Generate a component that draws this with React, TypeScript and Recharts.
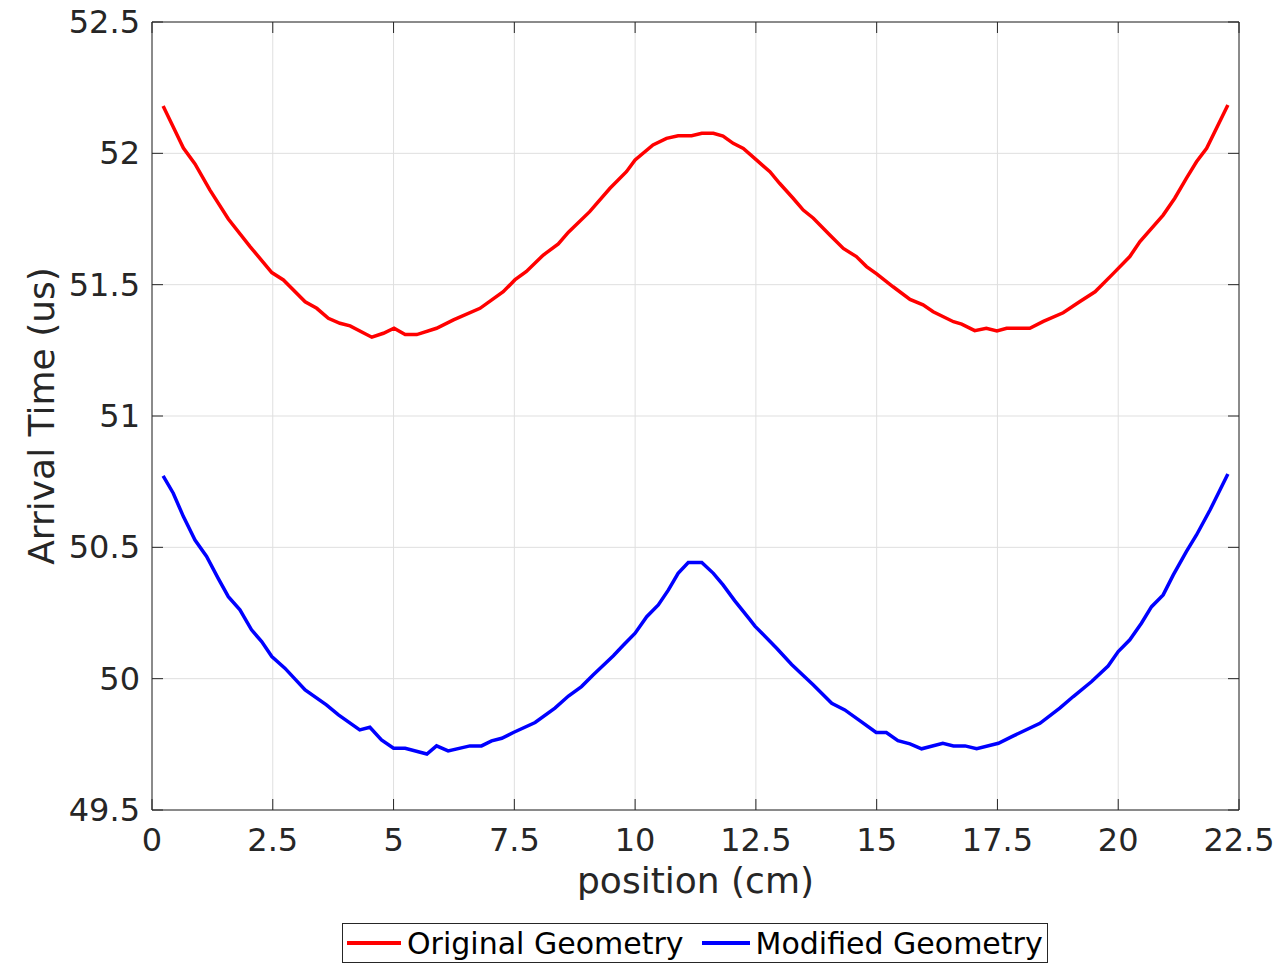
import { LineChart, Line, XAxis, YAxis, CartesianGrid, ReferenceArea, Label } from "recharts";

// position (cm) / arrival time (us)
const posRed = [
  0.23, 0.44, 0.65, 0.89, 1.2, 1.58, 2.03, 2.48, 2.72, 3.17, 3.41, 3.65, 3.89, 4.1, 4.55, 4.79, 5.01, 5.24,
  5.48, 5.89, 6.24, 6.79, 7.27, 7.51, 7.75, 8.1, 8.41, 8.62, 9.06, 9.48, 9.82, 10.0, 10.37, 10.65, 10.89,
  11.17, 11.38, 11.62, 11.82, 12.03, 12.24, 12.51, 12.79, 12.99, 13.27, 13.48, 13.69, 14.03, 14.31, 14.58,
  14.79, 15.0, 15.34, 15.69, 15.96, 16.17, 16.59, 16.76, 17.03, 17.27, 17.49, 17.69, 18.17, 18.45, 18.86,
  19.2, 19.52, 19.9, 20.24, 20.45, 20.93, 21.17, 21.41, 21.62, 21.83, 22.27,
];
const timeRed = [
  52.18, 52.1, 52.02, 51.96, 51.86, 51.75, 51.645, 51.546, 51.518, 51.435, 51.41, 51.372, 51.353, 51.343,
  51.3, 51.315, 51.334, 51.31, 51.31, 51.334, 51.366, 51.41, 51.473, 51.518, 51.55, 51.613, 51.655, 51.7,
  51.778, 51.867, 51.93, 51.975, 52.032, 52.057, 52.067, 52.067, 52.076, 52.076, 52.066, 52.038, 52.019,
  51.975, 51.93, 51.886, 51.829, 51.784, 51.753, 51.689, 51.638, 51.607, 51.569, 51.541, 51.492, 51.444,
  51.423, 51.397, 51.359, 51.35, 51.325, 51.334, 51.324, 51.334, 51.334, 51.36, 51.393, 51.435, 51.473,
  51.543, 51.607, 51.664, 51.765, 51.829, 51.905, 51.968, 52.019, 52.184,
];

const posBlue = [
  0.23, 0.44, 0.65, 0.89, 1.13, 1.37, 1.58, 1.82, 2.06, 2.27, 2.48, 2.75, 3.17, 3.61, 3.86, 4.3, 4.51, 4.75,
  5.0, 5.24, 5.69, 5.89, 6.13, 6.58, 6.82, 7.03, 7.24, 7.48, 7.93, 8.34, 8.62, 8.89, 9.13, 9.55, 9.76, 10.0,
  10.24, 10.48, 10.69, 10.89, 11.1, 11.38, 11.62, 11.82, 12.06, 12.38, 12.48, 12.93, 13.24, 13.69, 14.07,
  14.34, 14.65, 14.99, 15.2, 15.44, 15.69, 15.93, 16.37, 16.59, 16.83, 17.07, 17.52, 17.83, 18.38, 18.79,
  19.07, 19.45, 19.79, 20.0, 20.24, 20.48, 20.69, 20.93, 21.14, 21.41, 21.62, 21.9, 22.27,
];
const timeBlue = [
  50.772, 50.706, 50.617, 50.528, 50.465, 50.382, 50.312, 50.262, 50.186, 50.141, 50.084, 50.04, 49.957,
  49.9, 49.862, 49.805, 49.815, 49.767, 49.735, 49.735, 49.713, 49.744, 49.725, 49.744, 49.744, 49.763,
  49.773, 49.795, 49.833, 49.888, 49.934, 49.97, 50.014, 50.087, 50.128, 50.173, 50.236, 50.281, 50.338,
  50.401, 50.442, 50.442, 50.401, 50.357, 50.297, 50.224, 50.2, 50.116, 50.054, 49.976, 49.906, 49.881,
  49.84, 49.795, 49.795, 49.764, 49.752, 49.733, 49.754, 49.744, 49.744, 49.733, 49.754, 49.782, 49.83,
  49.888, 49.932, 49.989, 50.048, 50.103, 50.148, 50.211, 50.274, 50.319, 50.395, 50.484, 50.547, 50.642,
  50.779,
];

const xTicks = [0, 2.5, 5, 7.5, 10, 12.5, 15, 17.5, 20, 22.5];
const yTicks = [49.5, 50, 50.5, 51, 51.5, 52, 52.5];

const series = [
  { name: "Original Geometry", color: "#ff0000", pos: posRed, time: timeRed },
  { name: "Modified Geometry", color: "#0000ff", pos: posBlue, time: timeBlue },
];

const W = 1284;
const H = 964;
const PLOT = { left: 152, top: 22, right: 1239, bottom: 810 };
const AXIS = "#262626";
const TICK_LEN = 11;
const FONT = "'DejaVu Sans', sans-serif";

// inward ticks on both sides of the box, MATLAB style
// eslint-disable-next-line @typescript-eslint/no-explicit-any
function XTick({ x, y, payload }: any) {
  return (
    <g>
      <line x1={x} y1={PLOT.bottom} x2={x} y2={PLOT.bottom - TICK_LEN} stroke={AXIS} />
      <line x1={x} y1={PLOT.top} x2={x} y2={PLOT.top + TICK_LEN} stroke={AXIS} />
      <text x={x} y={y + 41} textAnchor="middle" fill={AXIS} fontSize={32} fontFamily={FONT}>
        {payload.value}
      </text>
    </g>
  );
}

// eslint-disable-next-line @typescript-eslint/no-explicit-any
function YTick({ x, y, payload }: any) {
  return (
    <g>
      <line x1={PLOT.left} y1={y} x2={PLOT.left + TICK_LEN} y2={y} stroke={AXIS} />
      <line x1={PLOT.right} y1={y} x2={PLOT.right - TICK_LEN} y2={y} stroke={AXIS} />
      <text x={x - 12} y={y + 11} textAnchor="end" fill={AXIS} fontSize={32} fontFamily={FONT}>
        {payload.value}
      </text>
    </g>
  );
}

export default function App() {
  return (
    <div style={{ position: "absolute", left: 0, top: 0, width: W, height: H, background: "#fff" }}>
      <LineChart
        width={W}
        height={H}
        margin={{ top: PLOT.top, right: W - PLOT.right, left: 0, bottom: 0 }}
      >
        <CartesianGrid stroke="#dfdfdf" strokeWidth={1} />
        <XAxis
          type="number"
          dataKey="x"
          domain={[0, 22.5]}
          ticks={xTicks}
          interval={0}
          height={H - PLOT.bottom}
          tickSize={0}
          tickMargin={0}
          axisLine={false}
          tickLine={false}
          tick={<XTick />}
        >
          <Label
            value="position (cm)"
            position="insideTop"
            offset={57}
            fill={AXIS}
            fontSize={36}
            fontFamily={FONT}
          />
        </XAxis>
        <YAxis
          type="number"
          domain={[49.5, 52.5]}
          ticks={yTicks}
          interval={0}
          width={PLOT.left}
          tickSize={0}
          tickMargin={0}
          axisLine={false}
          tickLine={false}
          tick={<YTick />}
        >
          <Label
            value="Arrival Time (us)"
            angle={-90}
            position="insideLeft"
            offset={41}
            textAnchor="middle"
            fill={AXIS}
            fontSize={36}
            fontFamily={FONT}
          />
        </YAxis>
        {series.map((s) => (
          <Line
            key={s.name}
            name={s.name}
            data={s.pos.map((x, i) => ({ x, t: s.time[i] }))}
            dataKey="t"
            type="linear"
            stroke={s.color}
            strokeWidth={3.5}
            dot={false}
            activeDot={false}
            isAnimationActive={false}
          />
        ))}
        <ReferenceArea
          x1={0}
          x2={22.5}
          y1={49.5}
          y2={52.5}
          fill="none"
          fillOpacity={0}
          stroke={AXIS}
          strokeWidth={1}
          ifOverflow="visible"
        />
      </LineChart>

      <div
        style={{
          position: "absolute",
          left: 342,
          top: 923,
          width: 706,
          height: 40,
          boxSizing: "border-box",
          border: `1px solid ${AXIS}`,
          background: "#fff",
          display: "flex",
          alignItems: "center",
          fontFamily: FONT,
          fontSize: 30,
          color: "#000",
          whiteSpace: "nowrap",
        }}
      >
        {series.map((s, i) => (
          <div key={s.name} style={{ display: "flex", alignItems: "center", marginLeft: i === 0 ? 4 : 18 }}>
            <span style={{ display: "inline-block", width: i === 0 ? 54 : 48, height: 3.5, background: s.color }} />
            <span style={{ marginLeft: 6 }}>{s.name}</span>
          </div>
        ))}
      </div>
    </div>
  );
}
